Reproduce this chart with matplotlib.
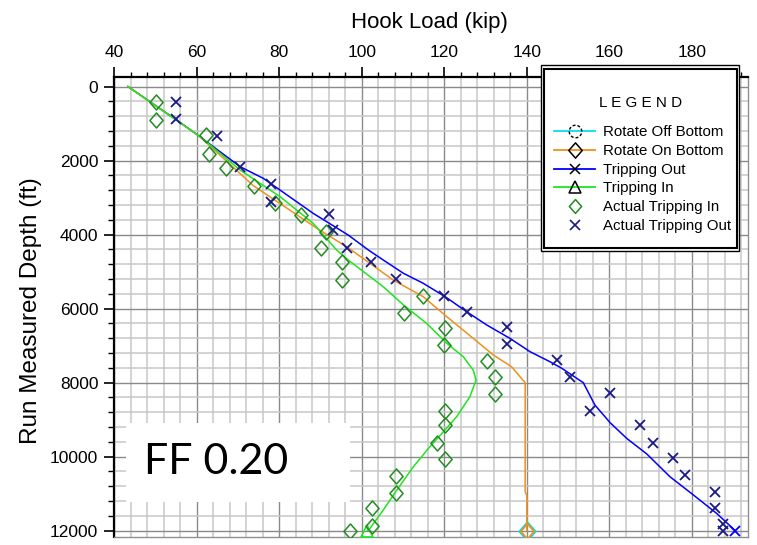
import numpy as np
import matplotlib
matplotlib.use('Agg')
import matplotlib.pyplot as plt
from matplotlib.lines import Line2D
from matplotlib.patches import Rectangle
from matplotlib.path import Path
from matplotlib import font_manager

# ---------------- data ----------------
# Model: Tripping Out (kip, ft)
trip_out_kip = [43.3, 55.1, 60.2, 70.5, 76.1, 84.2, 88.2, 96.7, 101.6, 105.2, 110.1, 114.9,
                120.2, 125.4, 130.3, 135.9, 140.8, 145.6, 148.5, 153.7, 156.5, 160.2, 164.2,
                169.1, 174.7, 180.4, 186.0, 190.5]
trip_out_depth = [0, 905, 1311, 2167, 2481, 3113, 3427, 4014, 4419, 4689, 5049, 5319,
                  5680, 6085, 6446, 6806, 7168, 7437, 7617, 8005, 8608, 9086, 9508,
                  9932, 10546, 11041, 11535, 12000]

# Model: Rotate On Bottom
rot_on_kip = [43.3, 60.5, 73.7, 89.1, 97.0, 107.6, 114.9, 120.6, 127.0, 131.9, 136.3,
              139.6, 139.6, 140.0, 140.0]
rot_on_depth = [0, 1330, 2680, 3830, 4380, 5230, 5680, 6221, 6806, 7257, 7573,
                8005, 10950, 11050, 12000]

# Model: Rotate Off Bottom (only visible at bit depth)
rot_off_kip = [140.0]
rot_off_depth = [12000]

# Model: Tripping In
trip_in_kip = [43.3, 60.8, 70.5, 80.2, 88.2, 93.9, 96.7, 100.4, 105.2, 110.1, 115.7, 120.6,
               124.6, 127.0, 127.7, 126.2, 123.0, 119.8, 116.5, 112.5, 108.5, 105.2, 102.0, 101.3]
trip_in_depth = [0, 1356, 2257, 2978, 3698, 4419, 4689, 5004, 5410, 5905, 6400, 6941,
                 7302, 7662, 7932, 8384, 8924, 9329, 9735, 10276, 10905, 11446, 11941, 12000]

# Actual Tripping In
act_in_kip = [50.1, 50.1, 62.2, 63.0, 67.1, 73.9, 79.0, 85.3, 91.3, 90.1, 95.1, 95.1,
              114.9, 110.3, 120.2, 119.9, 130.3, 132.3, 132.3, 120.2, 120.2, 118.2, 120.2,
              108.2, 108.2, 102.4, 102.4, 97.1]
act_in_depth = [410, 905, 1311, 1824, 2194, 2681, 3140, 3473, 3924, 4373, 4750, 5230,
                5662, 6113, 6518, 6986, 7419, 7843, 8311, 8762, 9149, 9643, 10076,
                10527, 10995, 11400, 11878, 12014]

# Actual Tripping Out
act_out_kip = [55.0, 55.0, 65.0, 70.5, 77.9, 77.9, 92.1, 93.1, 96.3, 102.2, 108.2, 120.0,
               125.4, 135.3, 135.3, 147.4, 150.5, 160.2, 155.3, 167.4, 170.5, 175.5, 178.4,
               185.6, 185.6, 187.6, 187.5]
act_out_depth = [428, 887, 1338, 2167, 2635, 3113, 3446, 3878, 4373, 4735, 5211, 5653,
                 6103, 6509, 6959, 7392, 7843, 8293, 8770, 9149, 9643, 10049, 10500,
                 10951, 11400, 11824, 12005]

legend_labels = ['Rotate Off Bottom', 'Rotate On Bottom', 'Tripping Out', 'Tripping In',
                 'Actual Tripping In', 'Actual Tripping Out']
x_major = [40, 60, 80, 100, 120, 140, 160, 180]
y_major = [0, 2000, 4000, 6000, 8000, 10000, 12000]

# ---------------- style ----------------
def has_font(name):
    try:
        font_manager.findfont(font_manager.FontProperties(family=name), fallback_to_default=False)
        return True
    except Exception:
        return False

plt.rcParams['font.family'] = ['Liberation Sans', 'DejaVu Sans']
NARROW = has_font('Liberation Sans Narrow')
FF_FONT = 'Lato' if has_font('Lato') else 'DejaVu Sans'

C_CYAN = '#00e0ee'
C_ORANGE = '#f0901a'
C_BLUE = '#0000ff'
C_LIME = '#1ee61e'
C_DGREEN = '#228b22'
C_NAVY = '#1a1a85'

diamond = Path([(0, 1), (0.88, 0), (0, -1), (-0.88, 0), (0, 1)],
               [Path.MOVETO, Path.LINETO, Path.LINETO, Path.LINETO, Path.CLOSEPOLY])

def dashed_circle(n=8, frac=0.6):
    verts, codes = [], []
    for i in range(n):
        a0 = 2 * np.pi * i / n
        ts = np.linspace(a0, a0 + 2 * np.pi / n * frac, 6)
        for j, t in enumerate(ts):
            verts.append((np.cos(t), np.sin(t)))
            codes.append(Path.MOVETO if j == 0 else Path.LINETO)
    return Path(verts, codes)

W, H, DPI = 757, 545, 100
fig = plt.figure(figsize=(W / DPI, H / DPI), dpi=DPI)
fig.patch.set_facecolor('white')

def fx(px):
    return px / W

def fy(py):
    return 1 - py / H

ax_l, ax_r, ax_t, ax_b = 114.3, 747.5, 77, 537
ax = fig.add_axes([fx(ax_l), fy(ax_b), (ax_r - ax_l) / W, (ax_b - ax_t) / H])
ax.set_axisbelow(True)

# ---------------- plot ----------------
ax.plot(trip_out_kip, trip_out_depth, color=C_BLUE, lw=1.1, zorder=3,
        marker='x', markevery=[-1], ms=7.5, mew=1.3)
ax.plot(rot_off_kip, rot_off_depth, linestyle='none', marker=diamond, ms=13,
        mfc='none', mec=C_CYAN, mew=1.6, zorder=3)
ax.plot(rot_on_kip, rot_on_depth, color=C_ORANGE, lw=1.1, zorder=4,
        marker=diamond, markevery=[-1], ms=11, mfc='none', mew=1.3)
ax.plot(trip_in_kip, trip_in_depth, color=C_LIME, lw=1.1, zorder=4,
        marker='^', markevery=[-1], ms=8.5, mfc='none', mew=1.2)
ax.plot(act_in_kip, act_in_depth, linestyle='none', marker=diamond, ms=10.8,
        mfc='none', mec=C_DGREEN, mew=1.1, zorder=5)
ax.plot(act_out_kip, act_out_depth, linestyle='none', marker='x', ms=7.2,
        mec=C_NAVY, mew=1.3, zorder=5)

# ---------------- axes ----------------
ax.set_xlim(40, 193.5)
ax.set_ylim(12175, -257)
ax.set_xticks(x_major)
ax.set_xticks(np.arange(40, 194, 4), minor=True)
ax.set_yticks(y_major)
ax.set_yticks(np.arange(0, 12001, 400), minor=True)
ax.xaxis.tick_top()
ax.tick_params(axis='x', which='major', direction='out', length=7.5, width=1.2,
               labelsize=12.5, pad=5, top=True, bottom=False, labeltop=True, labelbottom=False)
ax.tick_params(axis='x', which='minor', direction='out', length=3.5, width=1.0,
               top=True, bottom=False)
ax.tick_params(axis='y', which='major', direction='out', length=7.5, width=1.2,
               labelsize=12.5, pad=4, left=True, right=False)
ax.tick_params(axis='y', which='minor', direction='out', length=4, width=1.0,
               left=True, right=False)
ax.grid(which='minor', color='#c8c8c8', lw=1.1)
ax.grid(which='major', color='#8a8a8a', lw=1.0)
for s in ['top', 'left']:
    ax.spines[s].set_color('black')
    ax.spines[s].set_linewidth(1.6)
for s in ['right', 'bottom']:
    ax.spines[s].set_color('#909090')
    ax.spines[s].set_linewidth(1.0)

# FF label box
ax.add_patch(Rectangle((fx(126), fy(501.7)), 224 / W, 79 / H, transform=fig.transFigure,
                       facecolor='white', edgecolor='none', zorder=1))
fig.text(fx(216), fy(462), 'FF 0.20', ha='center', va='center', fontsize=31,
         family=[FF_FONT, 'DejaVu Sans'], zorder=6)

# titles
if NARROW:
    fig.text(fx(429.5), fy(28.3), 'Hook Load (kip)', ha='center', va='baseline',
             fontsize=18.5, family=['Liberation Sans Narrow', 'Liberation Sans'])
else:
    fig.text(fx(429.5), fy(28.3), 'Hook Load (kip)', ha='center', va='baseline',
             fontsize=16, family=['Liberation Sans', 'DejaVu Sans'])
fig.text(fx(31), fy(311), 'Run Measured Depth (ft)', rotation=90, ha='center', va='center',
         fontsize=17.5)

# ---------------- legend ----------------
fig.add_artist(Rectangle((fx(540.7), fy(251)), (739.3 - 540.7) / W, (251 - 65) / H,
                         transform=fig.transFigure, facecolor='white', edgecolor='black',
                         lw=1.0, zorder=4))
fig.add_artist(Rectangle((fx(543.5), fy(248)), (736.7 - 543.5) / W, (248 - 69.3) / H,
                         transform=fig.transFigure, facecolor='none', edgecolor='black',
                         lw=1.5, zorder=4))
fig.text(fx(640.5), fy(102.7), 'L E G E N D', ha='center', va='center', fontsize=11, zorder=6)

handles = [
    Line2D([], [], color=C_CYAN, lw=1.3, marker=dashed_circle(), ms=9, mfc='none',
           mec='black', mew=1.0),
    Line2D([], [], color=C_ORANGE, lw=1.3, marker=diamond, ms=11, mfc='none',
           mec='black', mew=1.1),
    Line2D([], [], color=C_BLUE, lw=1.3, marker='x', ms=7, mec='black', mew=1.1),
    Line2D([], [], color=C_LIME, lw=1.3, marker='^', ms=8, mfc='none', mec='black', mew=1.1),
    Line2D([], [], linestyle='none', marker=diamond, ms=10, mfc='none', mec=C_DGREEN, mew=1.1),
    Line2D([], [], linestyle='none', marker='x', ms=7, mec=C_NAVY, mew=1.2),
]
leg = fig.legend(handles, legend_labels, loc='upper left',
                 bbox_to_anchor=(fx(554), fy(125.5)), bbox_transform=fig.transFigure,
                 frameon=False, fontsize=10.8, handlelength=2.75, handletextpad=0.5,
                 labelspacing=0.31, borderpad=0, borderaxespad=0)
leg.set_zorder(7)

fig.savefig('out.png', dpi=DPI)
